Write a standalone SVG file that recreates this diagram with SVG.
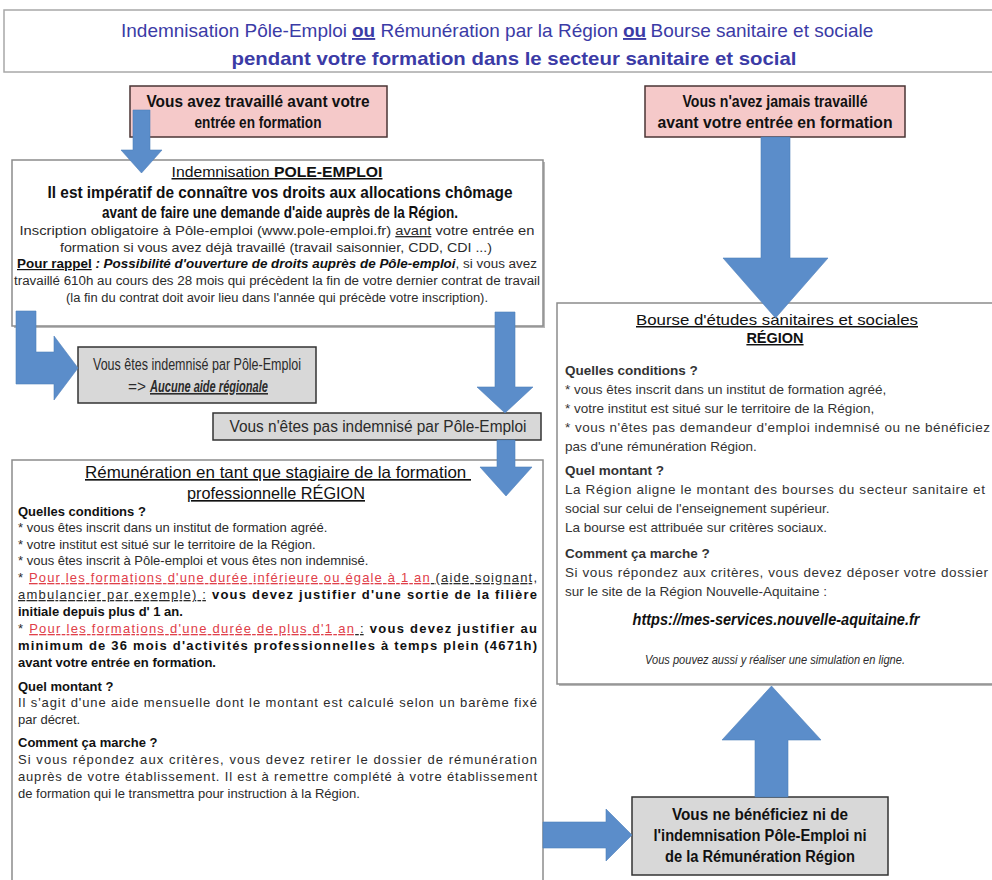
<svg xmlns="http://www.w3.org/2000/svg" width="992" height="880" viewBox="0 0 992 880">
<style>
text{font-family:"Liberation Sans",Arial,sans-serif;fill:#2b2b2b}
.b{font-weight:bold}
.i{font-style:italic}
.u{text-decoration:underline}
.k{fill:#111}
.red{fill:#e0404a}
.ttl{fill:#3b3ba6;font-size:19px}
.bx{font-size:13px}
.rx{font-size:13.5px;fill:#333}
.arrow{fill:#5b8dca;stroke:#4f7fbb;stroke-width:0.6}
.gray{fill:#d8d8d8;stroke:#333;stroke-width:1.5}
.pink{fill:#f5c9c9;stroke:#4a3535;stroke-width:1.5}
.panel{fill:#fff;stroke:#8c8c8c;stroke-width:1.5}
.shadow{fill:#b8b8b8}
</style>
<rect width="992" height="880" fill="#fff"/>

<g id="title">
<rect x="4" y="10" width="995" height="62" fill="#fff" stroke="#a8a8a8" stroke-width="1.5"/>
<text class="ttl" x="121" y="37">Indemnisation Pôle-Emploi</text>
<text class="ttl b u" x="352" y="37">ou</text>
<text class="ttl" x="380.5" y="37">Rémunération par la Région</text>
<text class="ttl b u" x="623" y="37">ou</text>
<text class="ttl" x="650.5" y="37">Bourse sanitaire et sociale</text>
<text class="ttl b" x="514" y="65" font-size="20" text-anchor="middle" textLength="565" lengthAdjust="spacingAndGlyphs">pendant votre formation dans le secteur sanitaire et social</text>
</g>

<g id="worked">
<rect class="pink" x="130" y="86" width="257" height="51"/>
<text class="b k" x="258" y="107" font-size="17" text-anchor="middle" textLength="223" lengthAdjust="spacingAndGlyphs">Vous avez travaillé avant votre</text>
<text class="b k" x="258" y="128" font-size="17" text-anchor="middle" textLength="127" lengthAdjust="spacingAndGlyphs">entrée en formation</text>
</g>

<g id="never-worked">
<rect class="pink" x="645" y="86" width="260" height="51"/>
<text class="b k" x="775" y="107" font-size="17" text-anchor="middle" textLength="185" lengthAdjust="spacingAndGlyphs">Vous n'avez jamais travaillé</text>
<text class="b k" x="775" y="128" font-size="17" text-anchor="middle" textLength="235" lengthAdjust="spacingAndGlyphs">avant votre entrée en formation</text>
</g>

<g id="indemnisation">
<rect class="shadow" x="14" y="162" width="531" height="166"/>
<rect class="panel" x="12" y="160" width="531" height="166"/>
<text x="277" y="177" font-size="15" text-anchor="middle" class="u k" textLength="211" lengthAdjust="spacingAndGlyphs">Indemnisation <tspan class="b">POLE-EMPLOI</tspan></text>
<text x="280" y="198" font-size="17" text-anchor="middle" class="b k" textLength="465" lengthAdjust="spacingAndGlyphs">Il est impératif de connaître vos droits aux allocations chômage</text>
<text x="280" y="218" font-size="17" text-anchor="middle" class="b k" textLength="356" lengthAdjust="spacingAndGlyphs">avant de faire une demande d'aide auprès de la Région.</text>
<text x="277" y="235" font-size="13.5" text-anchor="middle" textLength="515" lengthAdjust="spacingAndGlyphs">Inscription obligatoire à Pôle-emploi (www.pole-emploi.fr) <tspan class="u">avant</tspan> votre entrée en</text>
<text x="276" y="252" font-size="13.5" text-anchor="middle" textLength="432" lengthAdjust="spacingAndGlyphs">formation si vous avez déjà travaillé (travail saisonnier, CDD, CDI ...)</text>
<text x="277" y="268" font-size="12" text-anchor="middle" textLength="520" lengthAdjust="spacingAndGlyphs"><tspan class="b u k">Pour rappel</tspan><tspan class="b i k"> : Possibilité d'ouverture de droits auprès de Pôle-emploi</tspan>, si vous avez</text>
<text x="277" y="285" font-size="12" text-anchor="middle" textLength="526" lengthAdjust="spacingAndGlyphs">travaillé 610h au cours des 28 mois qui précèdent la fin de votre dernier contrat de travail</text>
<text x="277" y="302" font-size="12" text-anchor="middle" textLength="422" lengthAdjust="spacingAndGlyphs">(la fin du contrat doit avoir lieu dans l'année qui précède votre inscription).</text>
</g>

<g id="indemnise">
<rect class="gray" x="78" y="347" width="238" height="56"/>
<text x="197" y="370" font-size="16" text-anchor="middle" textLength="208" lengthAdjust="spacingAndGlyphs">Vous êtes indemnisé par Pôle-Emploi</text>
<text x="128" y="392" font-size="16" textLength="18" lengthAdjust="spacingAndGlyphs">=&gt;</text>
<text x="150" y="392" font-size="16" class="b i u" textLength="118" lengthAdjust="spacingAndGlyphs">Aucune aide régionale</text>
</g>

<g id="non-indemnise">
<rect class="gray" x="213" y="413" width="328" height="27"/>
<text x="378" y="432" font-size="16" text-anchor="middle" textLength="297" lengthAdjust="spacingAndGlyphs">Vous n'êtes pas indemnisé par Pôle-Emploi</text>
</g>

<g id="remuneration">
<rect class="panel" x="12" y="460" width="531" height="440"/>
<text x="278" y="478" font-size="16.5" text-anchor="middle" class="u k" textLength="386" lengthAdjust="spacingAndGlyphs">Rémunération en tant que stagiaire de la formation&#160;</text>
<text x="276" y="499" font-size="16.5" text-anchor="middle" class="u k" textLength="178" lengthAdjust="spacingAndGlyphs">professionnelle RÉGION</text>
<text x="18" y="516" class="bx b k">Quelles conditions ?</text>
<text x="18" y="532" class="bx">* vous êtes inscrit dans un institut de formation agréé.</text>
<text x="18" y="549" class="bx">* votre institut est situé sur le territoire de la Région.</text>
<text x="18" y="565" class="bx">* vous êtes inscrit à Pôle-emploi et vous êtes non indemnisé.</text>
<text x="18" y="582" class="bx" textLength="519" lengthAdjust="spacing">* <tspan class="u red">Pour les formations d'une durée inférieure ou égale à 1 an</tspan><tspan class="u"> (aide soignant,</tspan></text>
<text x="18" y="599" class="bx" textLength="519" lengthAdjust="spacing"><tspan class="u">ambulancier par exemple) :</tspan><tspan class="b k"> vous devez justifier d'une sortie de la filière</tspan></text>
<text x="18" y="616" class="bx b k">initiale depuis plus d' 1 an.</text>
<text x="18" y="633" class="bx" textLength="519" lengthAdjust="spacing">* <tspan class="u red">Pour les formations d'une durée de plus d'1 an</tspan><tspan class="u"> :</tspan><tspan class="b k"> vous devez justifier au</tspan></text>
<text x="18" y="650" class="bx b k" textLength="519" lengthAdjust="spacing">minimum de 36 mois d'activités professionnelles à temps plein (4671h)</text>
<text x="18" y="667" class="bx b k">avant votre entrée en formation.</text>
<text x="18" y="691" class="bx b k">Quel montant ?</text>
<text x="18" y="707" class="bx" textLength="519" lengthAdjust="spacing">Il s'agit d'une aide mensuelle dont le montant est calculé selon un barème fixé</text>
<text x="18" y="724" class="bx">par décret.</text>
<text x="18" y="747" class="bx b k">Comment ça marche ?</text>
<text x="18" y="764" class="bx" textLength="519" lengthAdjust="spacing">Si vous répondez aux critères, vous devez retirer le dossier de rémunération</text>
<text x="18" y="781" class="bx" textLength="519" lengthAdjust="spacing">auprès de votre établissement. Il est à remettre complété à votre établissement</text>
<text x="18" y="798" class="bx">de formation qui le transmettra pour instruction à la Région.</text>
</g>

<g id="bourse">
<rect class="shadow" x="559" y="305" width="440" height="381"/>
<rect class="panel" x="557" y="303" width="440" height="381"/>
<text x="777" y="325" font-size="15" text-anchor="middle" class="u k" textLength="282" lengthAdjust="spacingAndGlyphs">Bourse d'études sanitaires et sociales</text>
<text x="775" y="343" font-size="14.5" text-anchor="middle" class="u b k">RÉGION</text>
<text x="565" y="375" class="rx b k">Quelles conditions ?</text>
<text x="565" y="394" class="rx">* vous êtes inscrit dans un institut de formation agréé,</text>
<text x="565" y="413" class="rx">* votre institut est situé sur le territoire de la Région,</text>
<text x="565" y="432" class="rx" textLength="425" lengthAdjust="spacing">* vous n'êtes pas demandeur d'emploi indemnisé ou ne bénéficiez</text>
<text x="565" y="451" class="rx">pas d'une rémunération Région.</text>
<text x="565" y="475" class="rx b k">Quel montant ?</text>
<text x="565" y="494" class="rx" textLength="420" lengthAdjust="spacing">La Région aligne le montant des bourses du secteur sanitaire et</text>
<text x="565" y="513" class="rx">social sur celui de l'enseignement supérieur.</text>
<text x="565" y="532" class="rx">La bourse est attribuée sur critères sociaux.</text>
<text x="565" y="558" class="rx b k">Comment ça marche ?</text>
<text x="565" y="577" class="rx" textLength="423" lengthAdjust="spacing">Si vous répondez aux critères, vous devez déposer votre dossier</text>
<text x="565" y="596" class="rx">sur le site de la Région Nouvelle-Aquitaine :</text>
<text x="776" y="625" font-size="16" text-anchor="middle" class="b i k" textLength="287" lengthAdjust="spacingAndGlyphs">https://mes-services.nouvelle-aquitaine.fr</text>
<text x="775" y="664" font-size="12" text-anchor="middle" class="i" textLength="260" lengthAdjust="spacingAndGlyphs">Vous pouvez aussi y réaliser une simulation en ligne.</text>
</g>

<g id="aucune">
<rect class="gray" x="632" y="797" width="256" height="78"/>
<text x="760" y="820" font-size="16" text-anchor="middle" class="b k" textLength="176" lengthAdjust="spacingAndGlyphs">Vous ne bénéficiez ni de</text>
<text x="760" y="841" font-size="16" text-anchor="middle" class="b k" textLength="213" lengthAdjust="spacingAndGlyphs">l'indemnisation Pôle-Emploi ni</text>
<text x="760" y="862" font-size="16" text-anchor="middle" class="b k" textLength="190" lengthAdjust="spacingAndGlyphs">de la Rémunération Région</text>
</g>

<g id="connectors">
<polygon class="arrow" points="133,110 150,110 150,150 162,150 141.5,173 121,150 133,150"/>
<polygon class="arrow" points="761,137 790,137 790,258 828,258 775.5,318 723,258 761,258"/>
<polygon class="arrow" points="16,311 36,311 36,352 54,352 54,336 78,368 54,400 54,384 16,384"/>
<polygon class="arrow" points="495,312 515,312 515,387 533,387 505,413 477,387 495,387"/>
<polygon class="arrow" points="497,440 515,440 515,467 532,467 506,496 480,467 497,467"/>
<polygon class="arrow" points="755,797 788,797 788,740 821,740 771.5,686 722,740 755,740"/>
<polygon class="arrow" points="543,822 606,822 606,809 632,835 606,861 606,848 543,848"/>
</g>
</svg>
